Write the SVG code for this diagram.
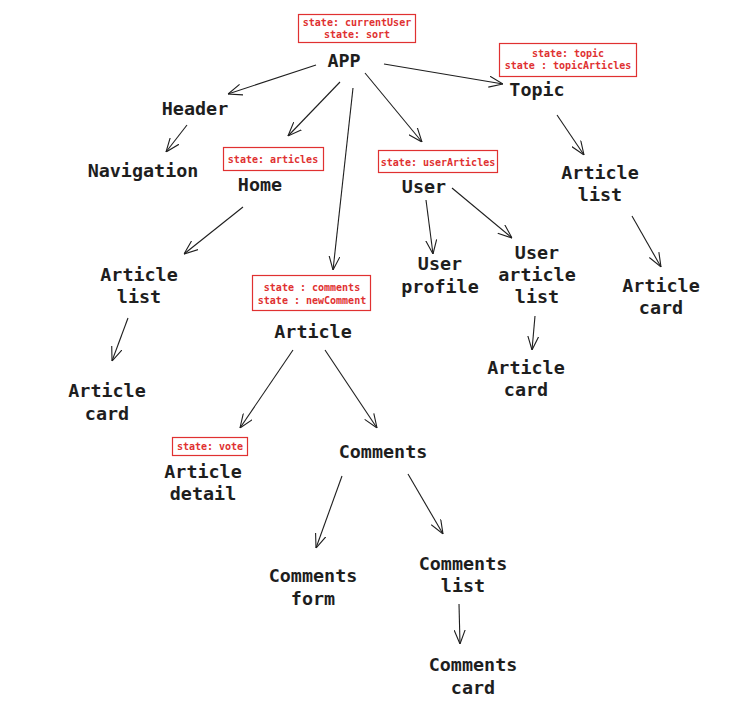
<svg xmlns="http://www.w3.org/2000/svg" width="748" height="720" viewBox="0 0 748 720">
<defs>
<marker id="ah" viewBox="0 0 14 12" refX="14" refY="6" markerWidth="14" markerHeight="12" markerUnits="userSpaceOnUse" orient="auto">
<path d="M0,0.5 L14,6 L0,11.5" fill="none" stroke="#1e1e1e" stroke-width="1.1"/>
</marker>
<style>
.n{font-family:"DejaVu Sans Mono","Liberation Mono",monospace;font-size:18.4px;font-weight:bold;fill:#1e1e1e;text-anchor:middle}
.s{font-family:"DejaVu Sans Mono","Liberation Mono",monospace;font-size:10px;font-weight:bold;fill:#e03131;text-anchor:middle}
.b{fill:none;stroke:#e03131;stroke-width:1.2}
.c line{stroke:#1e1e1e;stroke-width:1.1;marker-end:url(#ah)}
</style>
</defs>
<rect width="748" height="720" fill="#ffffff"/>
<g class="c" id="connectors">
<line x1="316" y1="65" x2="228" y2="94"/>
<line x1="340" y1="82" x2="288" y2="136"/>
<line x1="353" y1="88" x2="333" y2="270"/>
<line x1="365" y1="73" x2="422" y2="142"/>
<line x1="384" y1="64" x2="503" y2="84"/>
<line x1="187" y1="125" x2="166" y2="152"/>
<line x1="557" y1="115" x2="584" y2="155"/>
<line x1="243" y1="207" x2="184" y2="254"/>
<line x1="632" y1="216" x2="661" y2="267"/>
<line x1="426" y1="200" x2="433" y2="254"/>
<line x1="452" y1="188" x2="512" y2="238"/>
<line x1="128" y1="318" x2="112" y2="361"/>
<line x1="535" y1="316" x2="532" y2="350"/>
<line x1="293" y1="350" x2="240" y2="428"/>
<line x1="325" y1="350" x2="377" y2="428"/>
<line x1="342" y1="476" x2="316" y2="548"/>
<line x1="408" y1="474" x2="443" y2="534"/>
<line x1="459" y1="604" x2="460" y2="644"/>
</g>
<g id="app">
<rect class="b" x="298.5" y="14.5" width="117" height="28"/>
<text class="s" x="357" y="26">state: currentUser</text>
<text class="s" x="357" y="38">state: sort</text>
<text class="n" x="344" y="67">APP</text>
</g>
<g id="header"><text class="n" x="195" y="115">Header</text></g>
<g id="navigation"><text class="n" x="143" y="177">Navigation</text></g>
<g id="topic">
<rect class="b" x="499.5" y="43.5" width="137" height="33"/>
<text class="s" x="568" y="57">state: topic</text>
<text class="s" x="568" y="69">state : topicArticles</text>
<text class="n" x="537" y="96">Topic</text>
</g>
<g id="home">
<rect class="b" x="223.5" y="147.5" width="100" height="23"/>
<text class="s" x="273" y="163">state: articles</text>
<text class="n" x="260" y="191">Home</text>
</g>
<g id="user">
<rect class="b" x="378.5" y="150.5" width="119" height="22"/>
<text class="s" x="438" y="166">state: userArticles</text>
<text class="n" x="424" y="193">User</text>
</g>
<g id="topic-article-list"><text class="n" x="600" y="179">Article</text><text class="n" x="600" y="201">list</text></g>
<g id="home-article-list"><text class="n" x="139" y="281">Article</text><text class="n" x="139" y="303">list</text></g>
<g id="user-profile"><text class="n" x="440" y="270">User</text><text class="n" x="440" y="293">profile</text></g>
<g id="user-article-list"><text class="n" x="537" y="259">User</text><text class="n" x="537" y="281">article</text><text class="n" x="537" y="303">list</text></g>
<g id="topic-article-card"><text class="n" x="661" y="292">Article</text><text class="n" x="661" y="314">card</text></g>
<g id="article">
<rect class="b" x="252.5" y="275.5" width="118" height="35"/>
<text class="s" x="312" y="291">state : comments</text>
<text class="s" x="312" y="304">state : newComment</text>
<text class="n" x="313" y="338">Article</text>
</g>
<g id="user-article-card"><text class="n" x="526" y="374">Article</text><text class="n" x="526" y="396">card</text></g>
<g id="home-article-card"><text class="n" x="107" y="397">Article</text><text class="n" x="107" y="420">card</text></g>
<g id="article-detail">
<rect class="b" x="172.5" y="437.5" width="75" height="18"/>
<text class="s" x="210" y="450">state: vote</text>
<text class="n" x="203" y="478">Article</text><text class="n" x="203" y="500">detail</text>
</g>
<g id="comments"><text class="n" x="383" y="458">Comments</text></g>
<g id="comments-form"><text class="n" x="313" y="582">Comments</text><text class="n" x="313" y="605">form</text></g>
<g id="comments-list"><text class="n" x="463" y="570">Comments</text><text class="n" x="463" y="592">list</text></g>
<g id="comments-card"><text class="n" x="473" y="671">Comments</text><text class="n" x="473" y="694">card</text></g>
</svg>
